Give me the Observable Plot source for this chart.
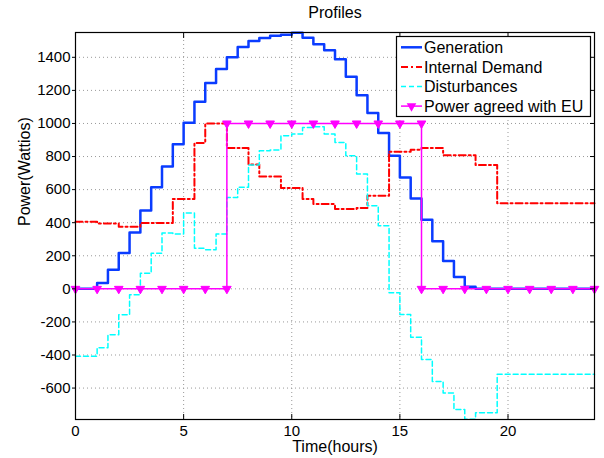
<!DOCTYPE html>
<html><head><meta charset="utf-8">
<script src="https://cdn.jsdelivr.net/npm/d3@7"></script>
<script src="https://cdn.jsdelivr.net/npm/@observablehq/plot@0.6"></script>
<style>body{margin:0;background:#fff;} #chart{width:604px;height:458px;}</style>
</head><body><div id="chart"></div>
<script>
// Half-hour time grid (hours) for the stair series
const timeHalfHours = d3.range(0, 24.5, 0.5);
// Hourly grid for the agreed power
const timeHours = d3.range(0, 25, 1);

const generation = [0,0,35,116,217,340,473,614,740,875,1004,1131,1244,1330,1401,1463,1499,1516,1530,1536,1548,1519,1479,1443,1389,1282,1171,1063,942,805,674,547,418,288,169,72,12,0,0,0,0,0,0,0,0,0,0,0,0];
const internalDemand = [405,405,395,395,375,375,398,398,398,543,543,882,1000,1000,851,851,752,680,680,610,610,543,513,513,483,483,489,563,563,829,829,841,851,851,808,808,808,749,749,517,517,517,517,517,517,517,517,517,517];
const disturbances = [-407,-407,-356,-278,-157,-36,94,215,338,332,459,245,237,332,553,614,749,835,840,926,936,976,980,936,885,805,694,503,382,-24,-155,-292,-427,-560,-630,-730,-789,-749,-749,-517,-517,-517,-517,-517,-517,-517,-517,-517,-517];
const powerAgreed = [0,0,0,0,0,0,0,1000,1000,1000,1000,1000,1000,1000,1000,1000,0,0,0,0,0,0,0,0,0];

const xTicks = [0,5,10,15,20];
const yTicks = [-600,-400,-200,0,200,400,600,800,1000,1200,1400];
const seriesNames = ["Generation","Internal Demand","Disturbances","Power agreed with EU"];
const titleText = "Profiles";
const xLabel = "Time(hours)";
const yLabel = "Power(Wattios)";

const toRows = (ts, vs) => ts.map((t, i) => ({t, v: vs[i]}));
const genRows = toRows(timeHalfHours, generation);
const demRows = toRows(timeHalfHours, internalDemand);
const disRows = toRows(timeHalfHours, disturbances);
const euRows = toRows(timeHours, powerAgreed);
// markers at every vertex of the stair path
const euVerts = [];
euRows.forEach((d, i) => {
  if (i > 0 && euRows[i-1].v !== d.v) euVerts.push({t: d.t, v: euRows[i-1].v});
  euVerts.push(d);
});

const colors = ["#0a3cff", "#ff0000", "#00ffff", "#ff00ff"];
const dashes = [null, "7,3,2,3", "5,3", null];
const widths = [2.5, 2, 1.5, 1.5];

const font = "'Liberation Sans', Arial, Helvetica, sans-serif";

const plot = Plot.plot({
  width: 604, height: 458,
  marginLeft: 75, marginRight: 10, marginTop: 32, marginBottom: 39,
  style: {fontFamily: font, fontSize: "15px", background: "#fff", color: "#000", overflow: "visible"},
  x: {domain: [0, 24]},
  y: {domain: [-790, 1550]},
  marks: [
    Plot.gridX(xTicks, {stroke: "#999", strokeOpacity: 1, strokeDasharray: "1,3"}),
    Plot.gridY(yTicks, {stroke: "#999", strokeOpacity: 1, strokeDasharray: "1,3"}),
    Plot.line(genRows, {x: "t", y: "v", curve: "step-after", stroke: colors[0], strokeWidth: widths[0]}),
    Plot.line(demRows, {x: "t", y: "v", curve: "step-after", stroke: colors[1], strokeWidth: widths[1], strokeDasharray: dashes[1]}),
    Plot.line(disRows, {x: "t", y: "v", curve: "step-after", stroke: colors[2], strokeWidth: widths[2], strokeDasharray: dashes[2]}),
    Plot.line(euRows, {x: "t", y: "v", curve: "step-after", stroke: colors[3], strokeWidth: widths[3]}),
    Plot.dot(euVerts, {x: "t", y: "v", symbol: "triangle", rotate: 180, r: 3.2, fill: colors[3], stroke: colors[3], strokeWidth: 1}),
    Plot.frame({stroke: "#000", strokeWidth: 1.2}),
    Plot.axisX(xTicks, {anchor: "bottom", tickSize: -5, tickPadding: 11, label: null, fontSize: 15, tickFormat: d => String(d)}),
    Plot.axisX(xTicks, {anchor: "top", tickSize: -5, label: null, tickFormat: () => ""}),
    Plot.axisY(yTicks, {anchor: "left", tickSize: 3, tickPadding: 2, label: null, fontSize: 15, tickFormat: d => String(d)}),
    Plot.axisY(yTicks, {anchor: "right", tickSize: -5, label: null, tickFormat: () => ""}),
    Plot.text([titleText], {text: d => d, frameAnchor: "top", dy: -15, lineAnchor: "bottom", fontSize: 16}),
    Plot.text([xLabel], {text: d => d, frameAnchor: "bottom", dy: 32, lineAnchor: "bottom", fontSize: 16}),
    Plot.text([yLabel], {text: d => d, frameAnchor: "left", dx: -51, rotate: -90, lineAnchor: "middle", fontSize: 16})
  ]
});

// Legend box
const svg = d3.select(plot);
const lg = svg.append("g").attr("font-family", font).attr("font-size", 16).attr("text-anchor", "start");
lg.append("rect").attr("x", 396.5).attr("y", 36.5).attr("width", 194).attr("height", 80)
  .attr("fill", "#fff").attr("stroke", "#000").attr("stroke-width", 1.2);
seriesNames.forEach((name, i) => {
  const y = 47.3 + i * 19.6;
  const ln = lg.append("path").attr("d", `M401,${y}H422`)
    .attr("fill", "none").attr("stroke", colors[i]).attr("stroke-width", widths[i]);
  if (dashes[i]) ln.attr("stroke-dasharray", dashes[i]);
  if (i === 3) {
    lg.append("path").attr("d", d3.symbol(d3.symbolTriangle, 40)()).attr("transform", `translate(411.5,${y}) rotate(180)`)
      .attr("fill", colors[i]).attr("stroke", "none");
  }
  lg.append("text").attr("x", 424).attr("y", y).attr("dy", "0.36em").attr("fill", "#000").attr("text-anchor", "start").text(name);
});

document.getElementById("chart").appendChild(plot);
</script>
</body></html>
